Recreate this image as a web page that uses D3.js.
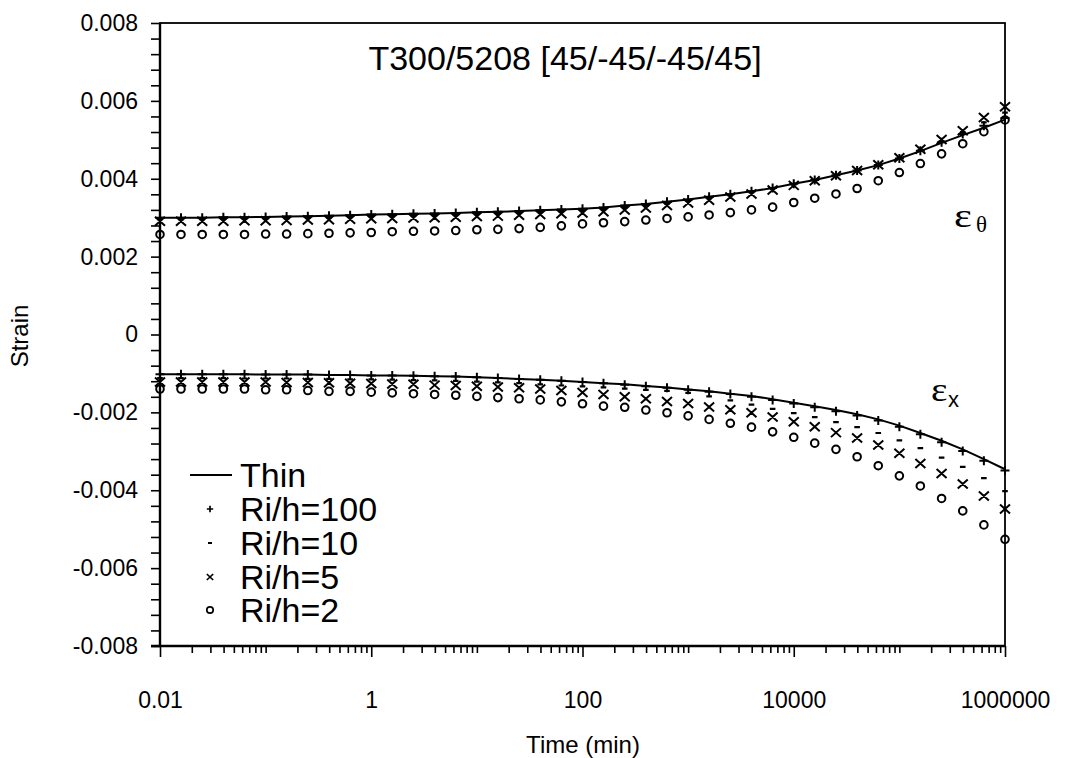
<!DOCTYPE html>
<html>
<head>
<meta charset="utf-8">
<script src="https://cdn.jsdelivr.net/npm/d3@7"></script>
<style>
  html, body { margin: 0; padding: 0; background: #fff; }
  svg { display: block; }
  text { font-family: "Liberation Sans", Arial, Helvetica, sans-serif; fill: #000; }
</style>
</head>
<body>
<svg id="chart" width="1069" height="758"></svg>
<script>
// ---------------- data ----------------
const times = [0.01,0.0158,0.0251,0.0398,0.0631,0.1,0.158,0.251,0.398,0.631,
  1,1.58,2.51,3.98,6.31,10,15.8,25.1,39.8,63.1,
  100,158,251,398,631,1000,1580,2510,3980,6310,
  10000,15800,25100,39800,63100,100000,158000,251000,398000,631000,1000000];

// circumferential strain (epsilon theta)
const thinTheta = [0.00300,0.00300,0.00300,0.00301,0.00301,0.00302,0.00303,0.00304,0.00305,0.00306,
  0.00308,0.00309,0.00310,0.00311,0.00312,0.00314,0.00315,0.00317,0.00319,0.00321,
  0.00323,0.00326,0.00331,0.00335,0.00341,0.00347,0.00354,0.00360,0.00368,0.00376,
  0.00387,0.00397,0.00409,0.00421,0.00435,0.00452,0.00471,0.00492,0.00512,0.00531,0.00552];
const r100Theta = [0.00300,0.00300,0.00300,0.00301,0.00301,0.00302,0.00303,0.00304,0.00305,0.00306,
  0.00308,0.00309,0.00310,0.00311,0.00312,0.00314,0.00315,0.00317,0.00319,0.00321,
  0.00323,0.00326,0.00331,0.00335,0.00341,0.00347,0.00354,0.00360,0.00368,0.00376,
  0.00387,0.00397,0.00409,0.00421,0.00435,0.00452,0.00472,0.00494,0.00515,0.00536,0.00556];
const r10Theta = [0.00296,0.00296,0.00296,0.00297,0.00297,0.00298,0.00299,0.00300,0.00301,0.00302,
  0.00304,0.00305,0.00306,0.00307,0.00308,0.00310,0.00311,0.00313,0.00315,0.00317,
  0.00319,0.00322,0.00327,0.00331,0.00337,0.00343,0.00350,0.00357,0.00365,0.00374,
  0.00385,0.00396,0.00409,0.00421,0.00436,0.00454,0.00474,0.00497,0.00520,0.00545,0.00570];
const r5Theta = [0.00291,0.00291,0.00291,0.00291,0.00292,0.00292,0.00293,0.00294,0.00295,0.00296,
  0.00297,0.00298,0.00299,0.00300,0.00301,0.00303,0.00304,0.00306,0.00308,0.00310,
  0.00312,0.00315,0.00320,0.00325,0.00331,0.00338,0.00345,0.00353,0.00361,0.00371,
  0.00383,0.00395,0.00408,0.00421,0.00436,0.00454,0.00476,0.00501,0.00523,0.00557,0.00585];
const r2Theta = [0.00257,0.00257,0.00257,0.00257,0.00257,0.00258,0.00258,0.00259,0.00260,0.00261,
  0.00262,0.00264,0.00265,0.00266,0.00267,0.00269,0.00270,0.00272,0.00275,0.00279,
  0.00284,0.00287,0.00290,0.00294,0.00298,0.00302,0.00307,0.00313,0.00320,0.00327,
  0.00339,0.00350,0.00361,0.00375,0.00395,0.00416,0.00439,0.00464,0.00490,0.00521,0.00551];

// axial strain (epsilon x)
const thinX = [-0.00102,-0.00102,-0.00102,-0.00102,-0.00102,-0.00103,-0.00103,-0.00103,-0.00104,-0.00104,
  -0.00105,-0.00105,-0.00106,-0.00107,-0.00108,-0.00110,-0.00112,-0.00114,-0.00116,-0.00119,
  -0.00122,-0.00125,-0.00128,-0.00132,-0.00136,-0.00141,-0.00146,-0.00152,-0.00158,-0.00166,
  -0.00175,-0.00184,-0.00194,-0.00205,-0.00218,-0.00234,-0.00253,-0.00273,-0.00295,-0.00320,-0.00346];
const r100X = [-0.00102,-0.00102,-0.00102,-0.00102,-0.00102,-0.00103,-0.00103,-0.00103,-0.00104,-0.00104,
  -0.00105,-0.00105,-0.00106,-0.00107,-0.00108,-0.00110,-0.00112,-0.00114,-0.00116,-0.00119,
  -0.00122,-0.00125,-0.00129,-0.00133,-0.00137,-0.00142,-0.00147,-0.00153,-0.00160,-0.00168,
  -0.00177,-0.00187,-0.00197,-0.00208,-0.00221,-0.00237,-0.00256,-0.00277,-0.00299,-0.00324,-0.00349];
const r10X = [-0.00112,-0.00112,-0.00112,-0.00112,-0.00113,-0.00113,-0.00113,-0.00114,-0.00114,-0.00115,
  -0.00115,-0.00116,-0.00117,-0.00118,-0.00119,-0.00121,-0.00123,-0.00125,-0.00128,-0.00131,
  -0.00133,-0.00136,-0.00139,-0.00142,-0.00145,-0.00150,-0.00159,-0.00169,-0.00180,-0.00191,
  -0.00202,-0.00212,-0.00225,-0.00238,-0.00253,-0.00272,-0.00292,-0.00316,-0.00340,-0.00369,-0.00402];
const r5X = [-0.00122,-0.00122,-0.00122,-0.00122,-0.00122,-0.00122,-0.00123,-0.00123,-0.00124,-0.00125,
  -0.00126,-0.00127,-0.00128,-0.00130,-0.00131,-0.00133,-0.00135,-0.00137,-0.00140,-0.00144,
  -0.00149,-0.00154,-0.00160,-0.00165,-0.00172,-0.00177,-0.00186,-0.00193,-0.00201,-0.00212,
  -0.00224,-0.00237,-0.00252,-0.00266,-0.00284,-0.00305,-0.00331,-0.00357,-0.00384,-0.00415,-0.00448];
const r2X = [-0.00140,-0.00140,-0.00140,-0.00140,-0.00140,-0.00142,-0.00142,-0.00144,-0.00146,-0.00146,
  -0.00148,-0.00150,-0.00152,-0.00154,-0.00156,-0.00159,-0.00162,-0.00165,-0.00168,-0.00173,
  -0.00178,-0.00184,-0.00187,-0.00194,-0.00201,-0.00209,-0.00218,-0.00228,-0.00238,-0.00250,
  -0.00264,-0.00279,-0.00295,-0.00314,-0.00337,-0.00363,-0.00389,-0.00421,-0.00453,-0.00489,-0.00526];

const xMajorTicks = [0.01, 1, 100, 10000, 1000000];
const xTickLabels = ["0.01", "1", "100", "10000", "1000000"];
const yMajorTicks = [-0.008,-0.006,-0.004,-0.002,0,0.002,0.004,0.006,0.008];
const yTickLabels = ["-0.008","-0.006","-0.004","-0.002","0","0.002","0.004","0.006","0.008"];
const legendLabels = ["Thin", "Ri/h=100", "Ri/h=10", "Ri/h=5", "Ri/h=2"];
const chartTitle = "T300/5208 [45/-45/-45/45]";

// ---------------- layout ----------------
const svg = d3.select("#chart");
const L = 160, R = 1005, T = 23, B = 646;
const x = d3.scaleLog().domain([0.01, 1000000]).range([L, R]);
const y = d3.scaleLinear().domain([-0.008, 0.008]).range([B, T]);
const SANS = '"Liberation Sans", Arial, sans-serif';
const SERIF = '"Liberation Serif", "Times New Roman", serif';

// minor ticks
const xMinor = [];
for (let e = -2; e < 6; e++) for (let m = 1; m <= 9; m++) {
  const v = m * Math.pow(10, e);
  if (!xMajorTicks.some(t => Math.abs(t - v) / t < 1e-9)) xMinor.push(v);
}
const yMinor = d3.range(-0.008, 0.00801, 0.0004).filter(v => !yMajorTicks.some(t => Math.abs(t - v) < 1e-9));

// y axis
const yAxisMinor = d3.axisLeft(y).tickValues(yMinor).tickSize(9).tickFormat("");
const yAxisMajor = d3.axisLeft(y).tickValues(yMajorTicks).tickSize(9).tickPadding(13)
  .tickFormat((d, i) => yTickLabels[i]);
const gy1 = svg.append("g").attr("transform", `translate(${L},0)`).call(yAxisMinor);
const gy2 = svg.append("g").attr("transform", `translate(${L},0)`).call(yAxisMajor);
[gy1, gy2].forEach(g => {
  g.select(".domain").remove();
  g.selectAll("line").attr("stroke", "#000").attr("stroke-width", 1.6);
});
gy2.selectAll("text").style("font-size", "23px").style("font-family", SANS);

// x axis
const xAxisMinor = d3.axisBottom(x).tickValues(xMinor).tickSize(7).tickFormat("");
const xAxisMajor = d3.axisBottom(x).tickValues(xMajorTicks).tickSize(11).tickPadding(35)
  .tickFormat((d, i) => xTickLabels[i]);
const gx1 = svg.append("g").attr("transform", `translate(0,${B})`).call(xAxisMinor);
const gx2 = svg.append("g").attr("transform", `translate(0,${B})`).call(xAxisMajor);
[gx1, gx2].forEach(g => {
  g.select(".domain").remove();
  g.selectAll("line").attr("stroke", "#000").attr("stroke-width", 1.6);
});
gx2.selectAll("text").style("font-size", "23px").style("font-family", SANS);

// frame
svg.append("rect").attr("x", L).attr("y", T).attr("width", R - L).attr("height", B - T)
  .attr("fill", "none").attr("stroke", "#000").attr("stroke-width", 1.8);
svg.append("line").attr("x1", L).attr("x2", L).attr("y1", T).attr("y2", B + 1)
  .attr("stroke", "#000").attr("stroke-width", 2.4);
svg.append("line").attr("x1", L - 9).attr("x2", R).attr("y1", B).attr("y2", B)
  .attr("stroke", "#000").attr("stroke-width", 2.4);

// axis titles
svg.append("text").attr("x", 583).attr("y", 753).attr("text-anchor", "middle")
  .style("font-size", "24px").text("Time (min)");
svg.append("text").attr("transform", "translate(28,336) rotate(-90)").attr("text-anchor", "middle")
  .style("font-size", "24px").text("Strain");

// chart title
svg.append("text").attr("x", 565).attr("y", 70).attr("text-anchor", "middle")
  .style("font-size", "34px").text(chartTitle);

// ---------------- series ----------------
const line = d3.line().x((d, i) => x(times[i])).y(d => y(d));
[thinTheta, thinX].forEach(s => {
  svg.append("path").attr("d", line(s)).attr("fill", "none")
    .attr("stroke", "#000").attr("stroke-width", 2);
});

function plusPath(cx, cy, s) { return `M${cx - s},${cy}H${cx + s}M${cx},${cy - s}V${cy + s}`; }
function dashPath(cx, cy, s) { return `M${cx - s},${cy}H${cx + s}`; }
function crossPath(cx, cy, sx, sy) { return `M${cx - sx},${cy - sy}L${cx + sx},${cy + sy}M${cx - sx},${cy + sy}L${cx + sx},${cy - sy}`; }

const marks = svg.append("g").attr("fill", "none").attr("stroke", "#000");
function drawPlus(series, s, g) {
  g.append("path").attr("stroke-width", 2)
    .attr("d", series.map((v, i) => plusPath(x(times[i]), y(v), s)).join(""));
}
function drawDash(series, s, g) {
  g.append("path").attr("stroke-width", 2.2)
    .attr("d", series.map((v, i) => dashPath(x(times[i]), y(v), s)).join(""));
}
function drawCross(series, sx, sy, g) {
  g.append("path").attr("stroke-width", 2)
    .attr("d", series.map((v, i) => crossPath(x(times[i]), y(v), sx, sy)).join(""));
}
function drawCircle(series, r, g) {
  g.selectAll(null).data(series).enter().append("circle")
    .attr("cx", (d, i) => x(times[i])).attr("cy", d => y(d)).attr("r", r)
    .attr("stroke-width", 2).attr("fill", "none");
}
[[r100Theta, r10Theta, r5Theta, r2Theta], [r100X, r10X, r5X, r2X]].forEach(([a, b, c, d]) => {
  drawPlus(a, 4.5, marks);
  drawDash(b, 2.8, marks);
  drawCross(c, 5, 4.5, marks);
  drawCircle(d, 3.8, marks);
});

// strain labels
const eT = svg.append("g").attr("transform", "translate(954,227)");
eT.append("text").attr("transform", "scale(1.25,1)").style("font-family", SERIF)
  .style("font-size", "34px").text("ε");
eT.append("text").attr("x", 22).attr("y", 5).style("font-family", SERIF)
  .style("font-size", "23px").text("θ");
const eX = svg.append("g").attr("transform", "translate(931,401)");
eX.append("text").attr("transform", "scale(1.15,1)").style("font-family", SERIF)
  .style("font-size", "34px").text("ε");
eX.append("text").attr("x", 17).attr("y", 6).style("font-family", SANS)
  .style("font-size", "22px").text("x");

// ---------------- legend ----------------
const lg = svg.append("g");
const rowY = [475, 509, 543, 577, 610];
lg.append("line").attr("x1", 190).attr("x2", 232).attr("y1", rowY[0]).attr("y2", rowY[0])
  .attr("stroke", "#000").attr("stroke-width", 2);
const lm = lg.append("g").attr("fill", "none").attr("stroke", "#000");
lm.append("path").attr("stroke-width", 1.7).attr("d", plusPath(210, rowY[1], 3.2));
lm.append("path").attr("stroke-width", 2).attr("d", dashPath(210, rowY[2], 2));
lm.append("path").attr("stroke-width", 1.7).attr("d", crossPath(210, rowY[3], 3.2, 3));
lm.append("circle").attr("cx", 210).attr("cy", rowY[4]).attr("r", 3.2).attr("stroke-width", 1.7);
legendLabels.forEach((t, i) => {
  lg.append("text").attr("x", 240).attr("y", rowY[i] + 12).style("font-size", "34px").text(t);
});
</script>
</body>
</html>
